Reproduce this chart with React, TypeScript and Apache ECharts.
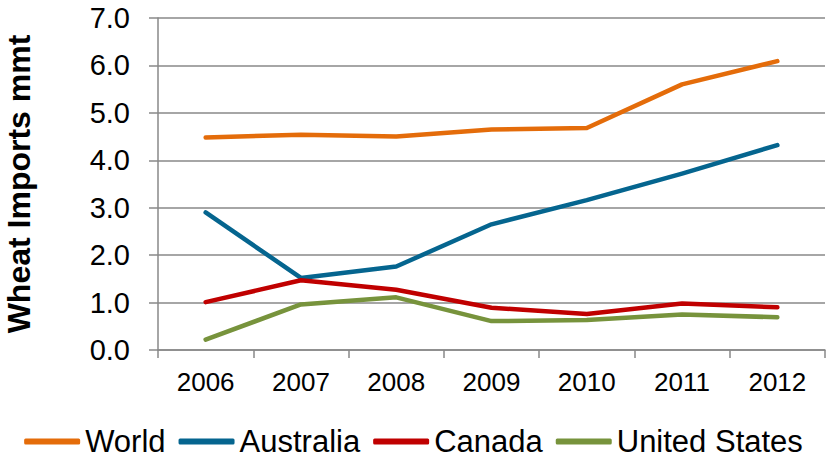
import React, { useEffect, useRef } from "react";
import * as echarts from "echarts";

const years = ["2006", "2007", "2008", "2009", "2010", "2011", "2012"];
const world = [4.48, 4.54, 4.5, 4.65, 4.68, 5.6, 6.09];
const australia = [2.9, 1.52, 1.76, 2.65, 3.16, 3.72, 4.32];
const canada = [1.01, 1.47, 1.27, 0.89, 0.76, 0.98, 0.9];
const unitedStates = [0.22, 0.96, 1.11, 0.61, 0.63, 0.75, 0.69];

const seriesNames = ["World", "Australia", "Canada", "United States"];
const seriesColors = ["#E46C0A", "#05658F", "#C00000", "#77933C"];

const FONT = "'Liberation Sans', Arial, sans-serif";

export default function App() {
  const ref = useRef<HTMLDivElement>(null);
  useEffect(() => {
    if (!ref.current) return;
    const chart = echarts.init(ref.current, null, { renderer: "svg" });
    const datas = [world, australia, canada, unitedStates];
    chart.setOption({
      animation: false,
      textStyle: { fontFamily: FONT },
      grid: { left: 158, right: 2, top: 18, bottom: 112, containLabel: false, outerBoundsMode: "none" },
      legend: {
        left: "center",
        top: 421,
        itemWidth: 56,
        itemHeight: 6,
        itemGap: 13,
        icon: "roundRect",
        textStyle: { fontSize: 31, color: "#000", fontFamily: FONT },
        data: seriesNames,
      },
      xAxis: {
        type: "category",
        data: years,
        boundaryGap: true,
        axisLine: { show: true, lineStyle: { color: "#898989", width: 1.5 } },
        axisTick: { show: true, length: 8, alignWithLabel: false, lineStyle: { color: "#898989", width: 1.5 } },
        axisLabel: { fontSize: 26, color: "#000", margin: 19, fontFamily: FONT },
        splitLine: { show: false },
      },
      yAxis: {
        type: "value",
        min: 0,
        max: 7,
        interval: 1,
        name: "Wheat Imports mmt",
        nameLocation: "middle",
        nameRotate: 90,
        nameGap: 123,
        nameTextStyle: { fontSize: 32, fontWeight: "bold", color: "#000", fontFamily: FONT },
        axisLine: { show: true, lineStyle: { color: "#898989", width: 1.5 } },
        axisTick: { show: true, length: 9, lineStyle: { color: "#898989", width: 1.5 } },
        axisLabel: {
          fontSize: 29,
          color: "#000",
          margin: 28,
          fontFamily: FONT,
          formatter: (v: number) => v.toFixed(1),
        },
        splitLine: { show: true, lineStyle: { color: "#898989", width: 1.5 } },
      },
      series: seriesNames.map((name, i) => ({
        name,
        type: "line",
        data: datas[i],
        symbol: "none",
        showSymbol: false,
        color: seriesColors[i],
        lineStyle: { color: seriesColors[i], width: 4.5, cap: "round", join: "round" },
        itemStyle: { color: seriesColors[i] },
      })),
    });
    return () => chart.dispose();
  }, []);
  return (
    <div
      ref={ref}
      style={{ position: "fixed", left: 0, top: 0, width: 827, height: 462, background: "#fff" }}
    />
  );
}
